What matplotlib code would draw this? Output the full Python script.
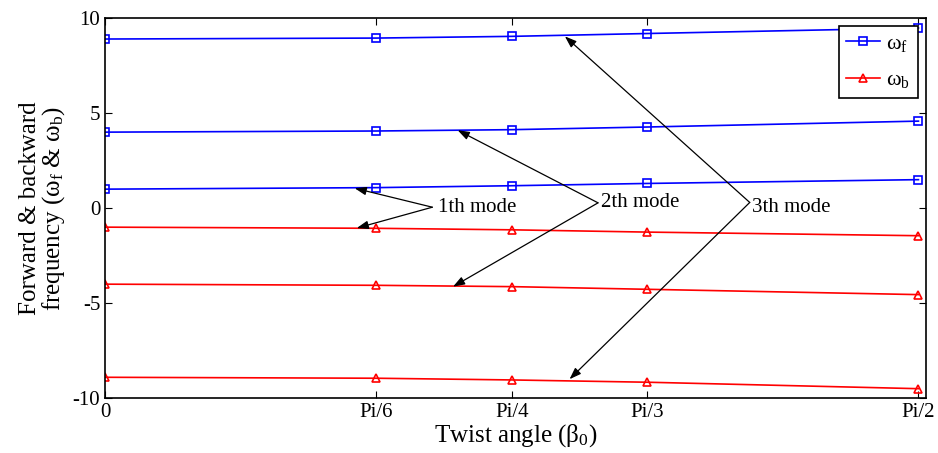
import numpy as np
import matplotlib.pyplot as plt

plt.rcParams['font.family'] = ['Liberation Serif', 'DejaVu Serif']
plt.rcParams['mathtext.fontset'] = 'custom'
plt.rcParams['mathtext.rm'] = 'Liberation Serif'
plt.rcParams['mathtext.default'] = 'regular'
plt.rcParams['axes.unicode_minus'] = False

# twist angle (rad) and tick labels
beta = [0, np.pi / 6, np.pi / 4, np.pi / 3, np.pi / 2]
beta_labels = ['0', 'Pi/6', 'Pi/4', 'Pi/3', 'Pi/2']

# forward frequencies, modes 1-3
wf1 = [1.0, 1.08, 1.18, 1.3, 1.5]
wf2 = [4.0, 4.06, 4.13, 4.27, 4.58]
wf3 = [8.9, 8.95, 9.04, 9.19, 9.48]
# backward frequencies, modes 1-3
wb1 = [-1.0, -1.06, -1.14, -1.26, -1.45]
wb2 = [-4.0, -4.06, -4.13, -4.27, -4.55]
wb3 = [-8.9, -8.95, -9.04, -9.16, -9.5]

fig = plt.figure(figsize=(9.38, 4.53), dpi=100)
ax = fig.add_axes([0.112, 0.121, 0.875, 0.839])

mk = dict(markerfacecolor='none', markersize=6, markeredgewidth=1.2, linewidth=1.2)
for i, w in enumerate([wf1, wf2, wf3]):
    ax.plot(beta, w, 's-', color='#0000ff', label=r'$\omega_f$' if i == 0 else None, **mk)
for i, w in enumerate([wb1, wb2, wb3]):
    ax.plot(beta, w, '^-', color='#ff0000', label=r'$\omega_b$' if i == 0 else None, **mk)

ax.set_xlim(0, 1.585)
ax.set_ylim(-10, 10)
ax.set_xticks(beta)
ax.set_xticklabels(beta_labels)
ax.set_yticks([-10, -5, 0, 5, 10])
ax.tick_params(direction='in', top=True, right=True, labelsize=15, length=5)
for s in ax.spines.values():
    s.set_linewidth(1.2)

ax.set_xlabel(r'Twist angle ($\beta_0$)', fontsize=18, labelpad=0)
ax.set_ylabel('Forward & backward\n' + r'frequency ($\omega_f$ & $\omega_b$)', fontsize=18,
              linespacing=0.95, labelpad=4)

leg = ax.legend(loc='upper right', fontsize=16, fancybox=False, framealpha=1,
                edgecolor='black', borderaxespad=0.35, handlelength=1.5,
                handletextpad=0.3, labelspacing=0.7, borderpad=0.35)
leg.get_frame().set_linewidth(1.2)

arr = dict(arrowstyle='-|>,head_length=0.7,head_width=0.25', color='black', lw=0.9,
           shrinkA=0, shrinkB=0)
modes = [
    ('1th mode', (0.643, 0.02), (0.632, 0.05), [(0.482, 1.05), (0.486, -1.05)]),
    ('2th mode', (0.958, 0.3), (0.952, 0.28), [(0.681, 4.1), (0.672, -4.13)]),
    ('3th mode', (1.25, 0.02), (1.245, 0.3), [(0.888, 9.04), (0.897, -9.0)]),
]
for text, tpos, start, tips in modes:
    ax.text(tpos[0], tpos[1], text, fontsize=15, ha='left', va='center')
    for tip in tips:
        ax.annotate('', xy=tip, xytext=start, arrowprops=arr)

fig.savefig('out.png', dpi=100)
